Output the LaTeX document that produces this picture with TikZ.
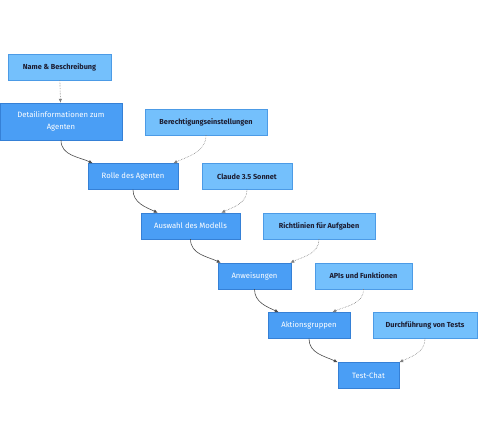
\documentclass[tikz,border=0pt]{standalone}
\usepackage{fontspec}
\setmainfont{Fira Sans}
\usepackage{xcolor}
\usepackage{tikz}
\usetikzlibrary{positioning, arrows.meta}
\definecolor{mainfill}{HTML}{4A9EF5}
\definecolor{mainline}{HTML}{3580D6}
\definecolor{sidefill}{HTML}{74C0FC}
\definecolor{sideline}{HTML}{4C9BE6}
\definecolor{sidetext}{HTML}{1C1C30}

\begin{document}
\begin{tikzpicture}[x=1pt, y=1pt,
      main/.style={draw=mainline, fill=mainfill, text=white, align=center,
        minimum height=26pt, inner sep=2pt,
        font=\fontsize{7.7}{12.5}\selectfont},
      side/.style={draw=sideline, fill=sidefill, text=sidetext, align=center,
        minimum height=26pt, inner sep=2pt,
        font=\fontsize{7.3}{9}\selectfont\bfseries},
      flow/.style={-{Latex[length=4pt, width=3.5pt]}, draw=black!70, semithick},
      hint/.style={-{Latex[length=4pt, width=3.5pt]}, draw=black!50,
        densely dotted, semithick}
    ]
    \useasboundingbox (0,0) rectangle (480,-440);

    \node[side, minimum width=103pt] (name) at (59.5,-67) {Name \& Beschreibung};
    \node[main, minimum width=122pt, minimum height=37pt] (detail) at (61,-121.5)
      {Detailinformationen zum \\ Agenten};
    \node[side, minimum width=122pt] (rights) at (206,-122) {Berechtigungseinstellungen};
    \node[main, minimum width=90pt] (role) at (133,-176.5) {Rolle des Agenten};
    \node[side, minimum width=90pt] (claude) at (247,-176.5) {Claude 3.5 Sonnet};
    \node[main, minimum width=99pt] (model) at (190.5,-226) {Auswahl des Modells};
    \node[side, minimum width=112pt] (rules) at (319,-226) {Richtlinien für Aufgaben};
    \node[main, minimum width=73pt] (instr) at (254.5,-276) {Anweisungen};
    \node[side, minimum width=97pt] (apis) at (363.5,-276) {APIs und Funktionen};
    \node[main, minimum width=82pt] (actions) at (309,-325.5) {Aktionsgruppen};
    \node[side, minimum width=104pt] (tests) at (425,-325.5) {Durchführung von Tests};
    \node[main, minimum width=61pt] (chat) at (368.5,-375.5) {Test-Chat};

    \draw[hint] (name) -- (detail);
    \draw[flow] (detail.south) to[out=-90, in=155] ([xshift=5pt]role.north west);
    \draw[hint] (rights.south) to[out=-90, in=25] ([xshift=-5pt]role.north east);
    \draw[flow] (role.south) to[out=-90, in=155] ([xshift=17pt]model.north west);
    \draw[hint] (claude.south) to[out=-90, in=25] ([xshift=-19pt]model.north east);
    \draw[flow] (model.south) to[out=-90, in=155] ([xshift=3pt]instr.north west);
    \draw[hint] (rules.south) to[out=-90, in=25] ([xshift=-1pt]instr.north east);
    \draw[flow] (instr.south) to[out=-90, in=155] ([xshift=11pt]actions.north west);
    \draw[hint] (apis.south) to[out=-90, in=25] ([xshift=-18pt]actions.north east);
    \draw[flow] (actions.south) to[out=-90, in=155] (chat.north west);
    \draw[hint] (tests.south) to[out=-90, in=25] (chat.north east);
  \end{tikzpicture}
\end{document}
